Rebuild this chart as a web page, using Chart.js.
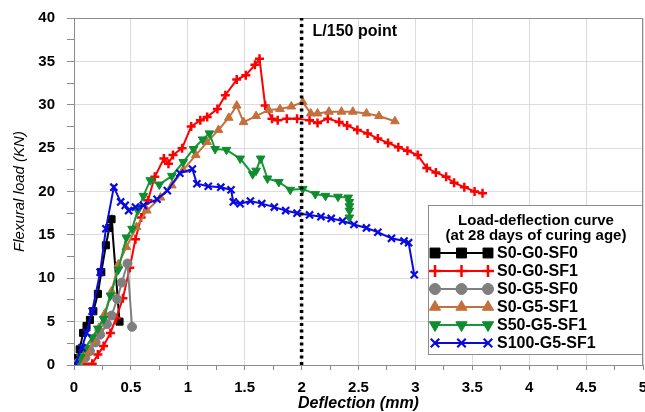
<!DOCTYPE html>
<html>
<head>
<meta charset="utf-8">
<script src="https://cdn.jsdelivr.net/npm/chart.js@4.4.1/dist/chart.umd.min.js"></script>
<style>
  html, body { margin: 0; padding: 0; background: #fff; }
</style>
</head>
<body>
<canvas id="LoadChart" width="645" height="412"></canvas>
<script>
// Load-deflection data (x = deflection mm, y = load kN)
const seriesNames = ['S0-G0-SF0', 'S0-G0-SF1', 'S0-G5-SF0', 'S0-G5-SF1', 'S50-G5-SF1', 'S100-G5-SF1'];

const s0g0sf0X = [0, 0.03, 0.05, 0.08, 0.11, 0.14, 0.17, 0.21, 0.24, 0.28, 0.31, 0.33, 0.40];
const s0g0sf0Y = [0, 0.8, 1.8, 3.7, 4.5, 5.2, 6.2, 8.2, 10.7, 13.8, 15.8, 16.8, 5.0];

const s0g0sf1X = [0.08, 0.16, 0.21, 0.26, 0.32, 0.37, 0.43, 0.49, 0.54, 0.59, 0.65, 0.71, 0.79, 0.83, 0.87, 0.95,
  1.03, 1.11, 1.17, 1.26, 1.33, 1.43, 1.51, 1.59, 1.63, 1.68, 1.74, 1.79, 1.87, 1.96, 2.07, 2.14, 2.23, 2.33, 2.40,
  2.49, 2.58, 2.67, 2.76, 2.85, 2.93, 3.02, 3.10, 3.18, 3.27, 3.34, 3.43, 3.52, 3.59];
const s0g0sf1Y = [0.1, 0.15, 1.2, 2.2, 3.7, 5.4, 7.7, 11.2, 14.5, 17.0, 19.0, 21.7, 23.8, 23.2, 24.2, 25.0,
  27.5, 28.2, 28.6, 29.5, 31.1, 32.9, 33.4, 34.6, 35.3, 29.9, 28.4, 28.2, 28.4, 28.4, 28.2, 27.9, 28.4, 28.0, 27.6,
  27.1, 26.7, 26.1, 25.6, 25.1, 24.7, 24.2, 22.7, 22.2, 21.7, 21.0, 20.5, 20.0, 19.8];

const s0g5sf0X = [0, 0.04, 0.10, 0.14, 0.19, 0.23, 0.29, 0.33, 0.38, 0.42, 0.47, 0.51];
const s0g5sf0Y = [0, 0.3, 0.85, 1.6, 2.6, 3.5, 4.7, 5.7, 7.6, 9.5, 11.7, 4.4];

const s0g5sf1X = [0.02, 0.08, 0.12, 0.17, 0.22, 0.27, 0.33, 0.39, 0.46, 0.55, 0.64, 0.76, 0.86, 0.96, 1.07, 1.17,
  1.27, 1.36, 1.43, 1.49, 1.60, 1.71, 1.81, 1.91, 2.01, 2.08, 2.14, 2.24, 2.35, 2.45, 2.57, 2.68, 2.82];
const s0g5sf1Y = [0, 0.6, 1.5, 2.8, 4.3, 5.9, 8.5, 11.6, 13.6, 15.9, 17.8, 19.3, 20.7, 22.5, 24.2, 25.7,
  27.1, 28.5, 29.9, 28.0, 28.7, 29.4, 29.5, 29.8, 30.3, 29.0, 29.0, 29.2, 29.2, 29.2, 29.0, 28.7, 28.1];

const s50g5sf1X = [0.02, 0.06, 0.10, 0.16, 0.21, 0.26, 0.32, 0.39, 0.46, 0.51, 0.56, 0.61, 0.67, 0.75, 0.86, 0.96,
  1.05, 1.13, 1.19, 1.24, 1.34, 1.46, 1.57, 1.60, 1.64, 1.70, 1.80, 1.90, 2.01, 2.12, 2.21, 2.32, 2.41, 2.42, 2.42,
  2.42, 2.42];
const s50g5sf1Y = [0, 0.9, 2.0, 3.2, 4.2, 5.3, 8.0, 11.0, 14.7, 15.7, 17.8, 19.5, 21.3, 20.8, 21.8, 23.4,
  24.9, 26.0, 26.7, 24.9, 24.8, 23.8, 22.0, 22.4, 23.8, 21.5, 21.1, 20.2, 20.3, 19.7, 19.5, 19.4, 19.3, 18.8, 18.3,
  17.8, 17.0];

const s100g5sf1X = [0.01, 0.07, 0.11, 0.16, 0.23, 0.28, 0.35, 0.41, 0.45, 0.48, 0.54, 0.61, 0.73, 0.82, 0.93, 1.04,
  1.08, 1.18, 1.29, 1.38, 1.40, 1.46, 1.55, 1.65, 1.76, 1.86, 1.96, 2.07, 2.17, 2.26, 2.36, 2.46, 2.57, 2.67, 2.79,
  2.90, 2.94, 2.99];
const s100g5sf1Y = [0.1, 2.0, 3.7, 6.2, 10.7, 15.7, 20.5, 18.8, 18.4, 17.8, 18.2, 18.4, 19.1, 20.1, 22.1, 22.6,
  20.9, 20.6, 20.5, 20.2, 18.8, 18.6, 18.9, 18.6, 18.2, 17.8, 17.5, 17.3, 17.1, 16.9, 16.6, 16.2, 15.8, 15.3, 14.6,
  14.3, 14.1, 10.4];

// L/150 reference line
const limitX = 2;
const limitLabel = 'L/150 point';

// axes
const xMin = 0, xMax = 5, xMajor = 0.5, xMinor = 0.25;
const yMin = 0, yMax = 40, yMajor = 5, yMinor = 2.5;
const xTitle = 'Deflection (mm)';
const yTitle = 'Flexural load (KN)';
const legendTitle = ['Load-deflection curve', '(at 28 days of curing age)'];

const FONT = '"Liberation Sans", Arial, sans-serif';
const toPoints = (xs, ys) => xs.map((x, i) => ({ x: x, y: ys[i] }));
const isMajor = (v, step) => Math.abs(v / step - Math.round(v / step)) < 1e-6;

const seriesData = [
  toPoints(s0g0sf0X, s0g0sf0Y),
  toPoints(s0g0sf1X, s0g0sf1Y),
  toPoints(s0g5sf0X, s0g5sf0Y),
  toPoints(s0g5sf1X, s0g5sf1Y),
  toPoints(s50g5sf1X, s50g5sf1Y),
  toPoints(s100g5sf1X, s100g5sf1Y)
];

const looks = [
  { line: '#000000', fill: '#000000', style: 'rect', r: 5, bw: 1, rot: 0, lr: 7 },
  { line: '#ff0000', fill: '#ff0000', style: 'cross', r: 4.5, bw: 2.5, rot: 0, lr: 6 },
  { line: '#7f7f7f', fill: '#7f7f7f', style: 'circle', r: 4.5, bw: 1, rot: 0, lr: 5.5 },
  { line: '#c4703c', fill: '#c4703c', style: 'triangle', r: 5, bw: 1, rot: 0, lr: 6.5 },
  { line: '#149a36', fill: '#0f8c2f', style: 'triangle', r: 5, bw: 1, rot: 180, lr: 6.5 },
  { line: '#0a0ae0', fill: '#0a0ae0', style: 'crossRot', r: 5, bw: 2.2, rot: 0, lr: 6 }
];

const datasets = seriesNames.map((name, i) => ({
  label: name,
  data: seriesData[i],
  borderColor: looks[i].line,
  borderWidth: 2,
  backgroundColor: looks[i].fill,
  pointStyle: looks[i].style,
  pointRadius: looks[i].r,
  pointRotation: looks[i].rot,
  pointBorderColor: looks[i].style === 'cross' || looks[i].style === 'crossRot' ? looks[i].line : looks[i].fill,
  pointBackgroundColor: looks[i].fill,
  pointBorderWidth: looks[i].bw,
  tension: 0,
  fill: false,
  order: seriesNames.length - i
}));

datasets.push({
  label: limitLabel,
  data: [{ x: limitX, y: yMin }, { x: limitX, y: yMax }],
  borderColor: '#000000',
  borderWidth: 3.5,
  borderDash: [3, 3.5],
  pointRadius: 0,
  fill: false,
  order: 0
});

const decorPlugin = {
  id: 'decorPlugin',
  beforeDatasetsDraw(chart) {
    const { ctx, chartArea: a } = chart;
    ctx.save();
    ctx.strokeStyle = '#8c8c8c';
    ctx.lineWidth = 1;
    ctx.beginPath();
    ctx.moveTo(a.left, a.top + 0.5);
    ctx.lineTo(a.right - 0.5, a.top + 0.5);
    ctx.lineTo(a.right - 0.5, a.bottom);
    ctx.stroke();
    ctx.restore();
  },
  afterDraw(chart) {
    const { ctx, chartArea: a, scales } = chart;
    ctx.save();
    // L/150 label
    ctx.font = 'bold 16px ' + FONT;
    ctx.fillStyle = '#000';
    ctx.textAlign = 'left';
    ctx.textBaseline = 'middle';
    ctx.fillText(limitLabel, scales.x.getPixelForValue(limitX) + 11, a.top + 14);

    // legend box
    const bx = a.right - 215, by = a.top + 187, bw = 214, bh = 149;
    ctx.fillStyle = '#fff';
    ctx.fillRect(bx, by, bw, bh);
    ctx.strokeStyle = '#8c8c8c';
    ctx.lineWidth = 1;
    ctx.strokeRect(bx + 0.5, by + 0.5, bw, bh);

    ctx.fillStyle = '#000';
    ctx.font = 'bold 15px ' + FONT;
    ctx.textAlign = 'center';
    legendTitle.forEach((t, i) => ctx.fillText(t, bx + bw / 2 + 1, by + 16 + i * 15));

    seriesNames.forEach((name, i) => {
      const lk = looks[i];
      const y = by + 48 + i * 18;
      const x1 = bx + 7, x2 = bx + 60;
      ctx.strokeStyle = lk.line;
      ctx.lineWidth = 2;
      ctx.setLineDash([]);
      ctx.beginPath();
      ctx.moveTo(x1, y);
      ctx.lineTo(x2, y);
      ctx.stroke();
      [x1, (x1 + x2) / 2, x2].forEach(px => {
        ctx.fillStyle = lk.fill;
        ctx.strokeStyle = (lk.style === 'cross' || lk.style === 'crossRot') ? lk.line : lk.fill;
        ctx.lineWidth = lk.bw;
        Chart.helpers.drawPoint(ctx, { pointStyle: lk.style, rotation: lk.rot, radius: lk.lr, borderWidth: lk.bw }, px, y);
      });
      ctx.fillStyle = '#000';
      ctx.font = 'bold 16px ' + FONT;
      ctx.textAlign = 'left';
      ctx.fillText(name, bx + 69, y + 1);
    });
    ctx.restore();
  }
};

const ctx = document.getElementById('LoadChart').getContext('2d');
new Chart(ctx, {
  type: 'line',
  data: { datasets: datasets },
  plugins: [decorPlugin],
  options: {
    responsive: false,
    animation: false,
    layout: { autoPadding: false, padding: { top: 18, right: 2, left: 0, bottom: 0 } },
    plugins: {
      legend: { display: false },
      tooltip: { enabled: false }
    },
    scales: {
      x: {
        type: 'linear',
        min: xMin,
        max: xMax,
        ticks: {
          stepSize: xMinor,
          autoSkip: false,
          maxRotation: 0,
          padding: 9,
          color: '#000',
          font: { family: FONT, size: 15, weight: 'bold' },
          callback: v => isMajor(v, xMajor) ? String(v) : ''
        },
        grid: {
          color: c => (c.tick && isMajor(c.tick.value, xMajor)) ? '#dcdcdc' : 'rgba(0,0,0,0)',
          tickColor: '#8c8c8c',
          tickLength: 5
        },
        border: { color: '#8c8c8c', width: 1 },
        title: {
          display: true,
          text: xTitle,
          color: '#000',
          font: { family: FONT, size: 16, weight: 'bold', style: 'italic', lineHeight: 1 },
          padding: { top: 0, bottom: 0 }
        },
        afterFit: s => { s.height = 47; s.paddingLeft = 0; s.paddingRight = 0; }
      },
      y: {
        type: 'linear',
        min: yMin,
        max: yMax,
        ticks: {
          stepSize: yMinor,
          autoSkip: false,
          padding: 12,
          color: '#000',
          font: { family: FONT, size: 15, weight: 'bold' },
          callback: v => isMajor(v, yMajor) ? String(v) : ''
        },
        grid: {
          color: c => (c.tick && isMajor(c.tick.value, yMajor)) ? '#dcdcdc' : 'rgba(0,0,0,0)',
          tickColor: '#8c8c8c',
          tickLength: 7
        },
        border: { color: '#8c8c8c', width: 1 },
        title: {
          display: true,
          text: yTitle,
          color: '#000',
          font: { family: FONT, size: 15, style: 'italic', lineHeight: 1.2 },
          padding: { top: 11, bottom: 0 }
        },
        afterFit: s => { s.width = 74; s.paddingTop = 0; s.paddingBottom = 0; }
      }
    }
  }
});
</script>
</body>
</html>
